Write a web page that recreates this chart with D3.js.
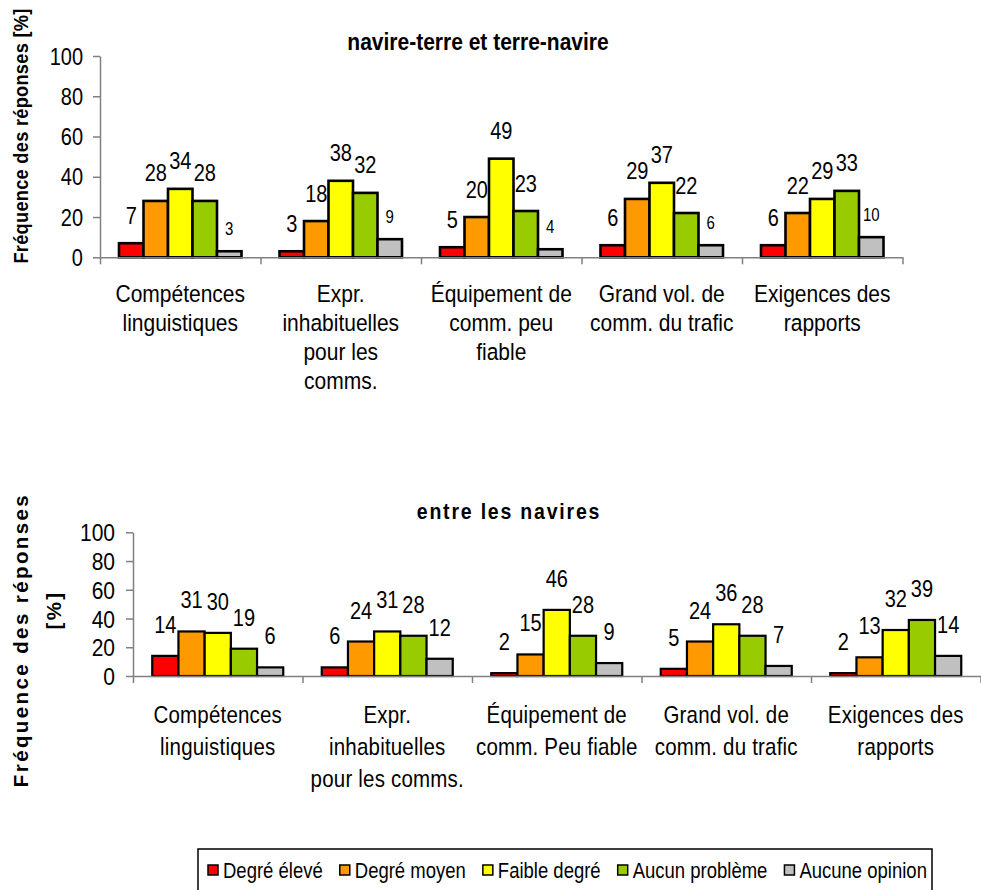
<!DOCTYPE html>
<html><head><meta charset="utf-8">
<script src="https://cdn.jsdelivr.net/npm/d3@7"></script>
<style>
body{margin:0;background:#fff}
svg{display:block}
text{font-family:"Liberation Sans",Arial,Helvetica,sans-serif;fill:#000}
</style>
</head><body>
<svg id="chart" width="981" height="890"></svg>
<script>
// ---------- data ----------
const seriesNames = ["Degré élevé","Degré moyen","Faible degré","Aucun problème","Aucune opinion"];
const seriesColors = ["#FF0000","#FF9900","#FFFF00","#99CC00","#C0C0C0"];
const yTicks = [0,20,40,60,80,100];

const topTitle = "navire-terre et terre-navire";
const topCategories = [
  ["Compétences","linguistiques"],
  ["Expr.","inhabituelles","pour les","comms."],
  ["Équipement de","comm. peu","fiable"],
  ["Grand vol. de","comm. du trafic"],
  ["Exigences des","rapports"]
];
const topDegreEleve    = [7,3,5,6,6];
const topDegreMoyen    = [28,18,20,29,22];
const topFaibleDegre   = [34,38,49,37,29];
const topAucunProbleme = [28,32,23,22,33];
const topAucuneOpinion = [3,9,4,6,10];

const bottomTitle = "entre les navires";
const bottomCategories = [
  ["Compétences","linguistiques"],
  ["Expr.","inhabituelles","pour les comms."],
  ["Équipement de","comm. Peu fiable"],
  ["Grand vol. de","comm. du trafic"],
  ["Exigences des","rapports"]
];
const bottomDegreEleve    = [14,6,2,5,2];
const bottomDegreMoyen    = [31,24,15,24,13];
const bottomFaibleDegre   = [30,31,46,36,32];
const bottomAucunProbleme = [19,28,28,28,39];
const bottomAucuneOpinion = [6,12,9,7,14];

const yLabelTop = ["Fréquence des réponses [%]"];
const yLabelBottom = ["Fréquence des réponses","[%]"];

// ---------- drawing ----------
const svg = d3.select("#chart");
const SY = 1.17; // vertical stretch of text seen in the reference

function stretchText(g, x, y, str, size, anchor, weight){
  return g.append("text")
    .attr("transform",`translate(${x},${y}) scale(1,${SY})`)
    .attr("font-size",size)
    .attr("text-anchor",anchor||"middle")
    .attr("font-weight",weight||"normal")
    .text(str);
}

function panel(cfg){
  const g = svg.append("g");
  const values = cfg.series;
  const x = d3.scaleBand().domain(d3.range(cfg.categories.length)).range([cfg.x0,cfg.x1]).padding(0);
  const pad = cfg.groupPad;
  const xs = d3.scaleBand().domain(seriesNames).range([pad, x.bandwidth()-pad]).padding(0);
  const y = d3.scaleLinear().domain([0,100]).range([cfg.y0,cfg.y100]);

  // y axis
  const ya = g.append("g").attr("transform",`translate(${cfg.x0},0)`)
    .call(d3.axisLeft(y).tickValues(yTicks).tickSize(7).tickSizeOuter(0).tickPadding(cfg.tickPad));
  ya.selectAll("path,line").attr("stroke","#808080").attr("stroke-width",1.5);
  ya.selectAll("text").attr("font-size",cfg.tickFont).attr("font-family","Liberation Sans, Arial, sans-serif")
    .attr("fill","#000").attr("dy",null).attr("dominant-baseline","central")
    .attr("transform",`scale(1,${SY})`);

  // bars
  seriesNames.forEach((s,si)=>{
    const vals = values[si];
    g.selectAll(null).data(vals).join("rect")
      .attr("x",(d,i)=>x(i)+xs(s))
      .attr("y",d=>y(d))
      .attr("width",xs.bandwidth())
      .attr("height",d=>y(0)-y(d))
      .attr("fill",seriesColors[si])
      .attr("stroke","#000")
      .attr("stroke-width",cfg.barStroke);
  });

  // x axis with boundary ticks
  const xb = d3.scaleLinear().domain([0,cfg.categories.length]).range([cfg.x0,cfg.x1]);
  const xa = g.append("g").attr("transform",`translate(0,${cfg.y0})`)
    .call(d3.axisBottom(xb).tickValues(d3.range(cfg.categories.length+1)).tickFormat("").tickSize(7).tickSizeOuter(0));
  xa.selectAll("path,line").attr("stroke","#808080").attr("stroke-width",1.5);

  // value labels
  seriesNames.forEach((s,si)=>{
    const vals = values[si];
    const small = cfg.smallLast && si===seriesNames.length-1;
    vals.forEach((v,i)=>{
      stretchText(g, x(i)+xs(s)+xs.bandwidth()/2, y(v)-(small?cfg.smallGap:cfg.labelGap), String(v), small?cfg.smallFont:cfg.labelFont);
    });
  });

  // category labels
  cfg.categories.forEach((lines,i)=>{
    lines.forEach((ln,li)=>{
      const t = stretchText(g, x(i)+x.bandwidth()/2, cfg.catBase + li*cfg.catStep, ln, cfg.catFont);
      if(cfg.catSpacing) t.attr("letter-spacing",cfg.catSpacing);
    });
  });

  // title
  const tt = stretchText(g, cfg.titleX, cfg.titleY, cfg.title, cfg.titleFont, "middle", "bold");
  if(cfg.titleSpacing) tt.attr("letter-spacing",cfg.titleSpacing);

  // y label
  cfg.yLabel.forEach((ln,li)=>{
    const p = cfg.yLabelPos[li];
    const t = g.append("text")
      .attr("transform",`translate(${p[0]},${p[1]}) rotate(-90) scale(${cfg.yLabelScale||1},1)`)
      .attr("font-size",cfg.yLabelFont).attr("font-weight","bold")
      .attr("text-anchor","middle").text(ln);
    if(cfg.yLabelSpacing) t.attr("letter-spacing",cfg.yLabelSpacing);
  });
}

panel({
  title: topTitle, categories: topCategories,
  series: [topDegreEleve,topDegreMoyen,topFaibleDegre,topAucunProbleme,topAucuneOpinion],
  x0:100, x1:902.5, y0:257.3, y100:56, groupPad:19,
  tickPad:10, tickFont:20, barStroke:2.6,
  labelGap:19.5, labelFont:20, smallLast:true, smallGap:16, smallFont:15,
  catBase:302, catStep:29, catFont:21,
  titleX:478, titleY:50, titleFont:21,
  yLabel: yLabelTop, yLabelPos:[[28,136]], yLabelFont:20.5, yLabelScale:0.89, yLabelSpacing:0.3
});

panel({
  title: bottomTitle, categories: bottomCategories,
  series: [bottomDegreEleve,bottomDegreMoyen,bottomFaibleDegre,bottomAucunProbleme,bottomAucuneOpinion],
  x0:133, x1:980.5, y0:676, y100:532.3, groupPad:19.25,
  tickPad:11, tickFont:21, barStroke:2.2,
  labelGap:23, labelFont:20, smallLast:false,
  catBase:723, catStep:32, catFont:20.5, catSpacing:0.2,
  titleX:509, titleY:519, titleFont:19.5, titleSpacing:1.8,
  yLabel: yLabelBottom, yLabelPos:[[28,640],[61,610]], yLabelFont:20.5, yLabelSpacing:2.4
});

// legend: items spread to fill the box like the reference
const lg = svg.append("g");
lg.append("rect").attr("x",198).attr("y",849).attr("width",734).attr("height",50)
  .attr("fill","#fff").attr("stroke","#000").attr("stroke-width",1.5);
const legStart = 208, legEnd = 927, mark = 10, markGap = 5;
const items = seriesNames.map((s,i)=>{
  const t = lg.append("text")
    .attr("font-size",18.5).attr("dominant-baseline","central").text(s);
  return {t, w: t.node().getComputedTextLength(), i};
});
const totalW = d3.sum(items, d=>mark+markGap+d.w);
const gap = (legEnd-legStart-totalW)/(items.length-1);
let lx = legStart;
items.forEach(d=>{
  lg.append("rect").attr("x",lx).attr("y",865).attr("width",mark).attr("height",mark)
    .attr("fill",seriesColors[d.i]).attr("stroke","#000").attr("stroke-width",1.5);
  d.t.attr("transform",`translate(${lx+mark+markGap},870) scale(1,${SY})`);
  lx += mark + markGap + d.w + gap;
});
</script>
</body></html>
